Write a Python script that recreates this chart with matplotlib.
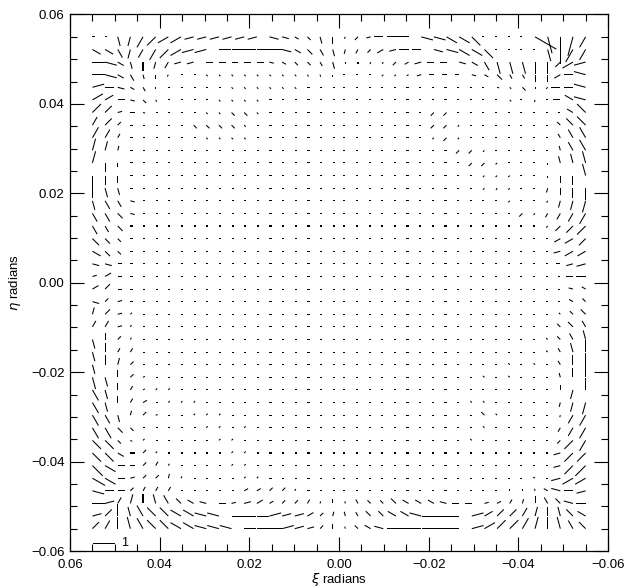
import numpy as np
import matplotlib
matplotlib.use("Agg")
import matplotlib.pyplot as plt
from matplotlib.ticker import MultipleLocator, FuncFormatter

plt.rcParams['font.family'] = ['Liberation Sans', 'DejaVu Sans']

# grid of the map (radians): columns left -> right, rows top -> bottom
xi_grid = np.linspace(0.055, -0.055, 40)
eta_grid = np.linspace(0.055, -0.055, 40)

# line orientation per cell, hex digit * 15 degrees (0 = horizontal, 6 = vertical)
orient = [
    "0075432211" "1111bba976" "431000bbaa" "90000a7654",
    "aa85443211" "00000ba987" "5432100bba" "a900007644",
    "0ba7654110" "0000ba9987" "665432100b" "a877766321",
    "0ba8764009" "9999999876" "0003321000" "ba9886620b",
    "10ba860000" "0999999000" "0000000000" "00b996300b",
    "220b980000" "9999000000" "0000000000" "00090500ab",
    "3310b00009" "9999000000" "0000000330" "00000000a9",
    "4330000099" "9990000000" "0000000333" "0000000999",
    "4440000009" "9990000000" "0000000333" "0000000888",
    "5550000000" "0000000000" "0000000003" "3300000788",
    "5660000000" "0000000000" "0000000000" "3330006777",
    "6660000000" "0000000000" "0000000000" "0333006667",
    "6770000000" "0000000000" "0000000000" "0343005666",
    "788b000000" "0000000000" "0000000000" "0003004555",
    "889b000000" "0000000000" "0000000000" "0000334444",
    "8890000000" "0000000000" "0000000000" "0000003333",
    "9990000000" "0000000000" "0000000000" "0000000223",
    "a990000000" "0000000000" "0000000000" "0000000122",
    "bb00000000" "0000000000" "0000000000" "0000000011",
    "1200000000" "0000000000" "0000000000" "0000000000",
    "2300000000" "0000000000" "0000000000" "00000000ba",
    "b310000000" "0000000000" "0000000000" "00000000a9",
    "5313000000" "0000000000" "0000000000" "0000000999",
    "4414000000" "0000000000" "0000000000" "0000000998",
    "7634000000" "0000000000" "0000000000" "0000009987",
    "7644000000" "0000000000" "0000000000" "0000009876",
    "7653000000" "0000000000" "0000000000" "0009090866",
    "7763200000" "0000000000" "0000000000" "0909000766",
    "8764233000" "0000000000" "0000000000" "0000000656",
    "8764203330" "0000000000" "0000000000" "9900000555",
    "8875310033" "3000000000" "0000000000" "0990000544",
    "8899000003" "3030000000" "0000000000" "0900000444",
    "999a300000" "3300000000" "0000000000" "9000000334",
    "99a0330000" "0330000000" "0000000000" "0000000133",
    "9a00344000" "0330000000" "0000000000" "0000000133",
    "aa01335400" "0033000000" "0000000000" "00000a0122",
    "b003444000" "0022334000" "0000000000" "000667ab01",
    "01456789ab" "0112233456" "78999aaab0" "01245689b0",
    "1367899aab" "b000111235" "7899aab000" "123345679a",
    "3467899aab" "bb00011136" "79ab000000" "1233456789",
]

# line length class per cell (see step_mag below)
length = [
    "1144555544" "4444432233" "1224455555" "51111a7885",
    "4444455555" "5555543333" "2223344455" "5511115665",
    "5533433333" "3333222223" "1111223333" "3455555355",
    "5533221111" "1111111111" "1111112222" "2232233345",
    "5432211111" "1111111111" "1111111111" "1111211445",
    "5432211111" "1111111111" "1111111111" "1111111345",
    "5422111111" "1221111111" "1111111221" "1111111135",
    "4421111122" "2211111111" "1111111221" "1111111245",
    "5421111111" "1111111111" "1111111121" "1111111245",
    "5421111111" "1111111111" "1111111112" "2111111245",
    "5421111111" "1111111111" "1111111111" "2211111345",
    "5431111111" "1111111111" "1111111111" "1111111345",
    "4431111111" "1111111111" "1111111111" "1111112345",
    "4432111111" "1111111111" "1111111111" "1111111345",
    "4432111111" "1111111111" "1111111111" "1111212345",
    "4331111111" "1111111111" "1111111111" "1111111345",
    "4321111111" "1111111111" "1111111111" "1111111344",
    "4321111111" "1111111111" "1111111111" "1111111344",
    "3321111111" "1111111111" "1111111111" "1111111234",
    "2321111111" "1111111111" "1111111111" "1111111134",
    "3321111111" "1111111111" "1111111111" "1111111122",
    "3221111111" "1111111111" "1111111111" "1111111122",
    "3321111111" "1111111111" "1111111111" "1111111123",
    "3321111111" "1111111111" "1111111111" "1111111233",
    "4321111111" "1111111111" "1111111111" "1111111234",
    "4422111111" "1111111111" "1111111111" "1111111245",
    "4432111111" "1111111111" "1111111111" "1111111245",
    "5432111111" "1111111111" "1111111111" "1111111245",
    "5432111111" "1111111111" "1111111111" "1111111245",
    "5432211111" "1111111111" "1111111111" "1111111245",
    "5432211111" "1111111111" "1111111111" "1211111145",
    "5532111111" "1111111111" "1111111111" "1111111245",
    "5521111111" "1111111111" "1111111111" "1111111255",
    "5532211111" "1111111111" "1111111111" "1111111355",
    "6532221111" "1111111111" "1111111111" "1111111356",
    "6532222111" "1111111111" "1111111111" "1111111455",
    "5432222111" "1122221111" "1111111111" "1111112444",
    "5434444333" "3233222212" "1222333333" "3222233344",
    "4454555555" "5555544322" "2233445555" "5444444444",
    "4455555555" "5555554322" "1234455555" "5555555544",
]

# magnitude of each length class, in units of the key line "1"
step_mag = [0.0, 0.095, 0.20, 0.31, 0.42, 0.54, 0.65, 0.76, 0.87, 0.98, 1.10]

ang = np.deg2rad(15.0 * np.array([[int(c, 16) for c in r] for r in orient]))
mag = np.array([[step_mag[int(c, 16)] for c in r] for r in length])

# lines start at the grid point and run away from the nearest edge
jj, ii = np.mgrid[0:40, 0:40]
u = np.cos(ang)
v = np.sin(ang)
near = np.stack([jj, 39 - jj, ii, 39 - ii]).argmin(0)
nx = np.array([0, 0, 1, -1])[near]
ny = np.array([-1, 1, 0, 0])[near]
d = u * nx + v * ny
d = np.where(np.abs(d) < 1e-6, u * (19.5 - ii) + v * (jj - 19.5), d)
sgn = np.where(d < 0, -1.0, 1.0)
U = sgn * u * mag
V = sgn * v * mag

X, Y = np.meshgrid(xi_grid, eta_grid)

fig = plt.figure(figsize=(6.28, 5.87), dpi=100)
ax = fig.add_axes([0.1115, 0.0613, 0.8567, 0.914])

q = ax.quiver(X, Y, U, V, angles='uv', pivot='tail',
              scale_units='dots', scale=1 / 22.4,
              units='dots', width=1.05,
              headwidth=0, headlength=0, headaxislength=0,
              color='black')
ax.quiverkey(q, 0.0836, 0.0145, 1, '1', labelpos='E', coordinates='axes',
             labelsep=0.06, fontproperties={'size': 9})

ax.set_xlim(0.06, -0.06)
ax.set_ylim(-0.06, 0.06)

fmt = FuncFormatter(lambda val, pos: ('%.2f' % (val + 0.0)).replace('-0.00', '0.00').replace('-', '\u2212'))
for axis in (ax.xaxis, ax.yaxis):
    axis.set_major_locator(MultipleLocator(0.02))
    axis.set_minor_locator(MultipleLocator(0.005))
    axis.set_major_formatter(fmt)

ax.tick_params(which='both', direction='in', top=True, right=True, width=0.8,
               labelsize=9.5)
ax.tick_params(which='major', length=10)
ax.tick_params(which='minor', length=5)
ax.tick_params(axis='x', pad=6)
ax.tick_params(axis='y', pad=4)
for s in ax.spines.values():
    s.set_linewidth(0.9)

ax.set_xlabel('$\\xi$ radians', fontsize=9.5, labelpad=0)
ax.set_ylabel('$\\eta$ radians', fontsize=9.5, labelpad=6)

fig.savefig('out.png', dpi=100)
